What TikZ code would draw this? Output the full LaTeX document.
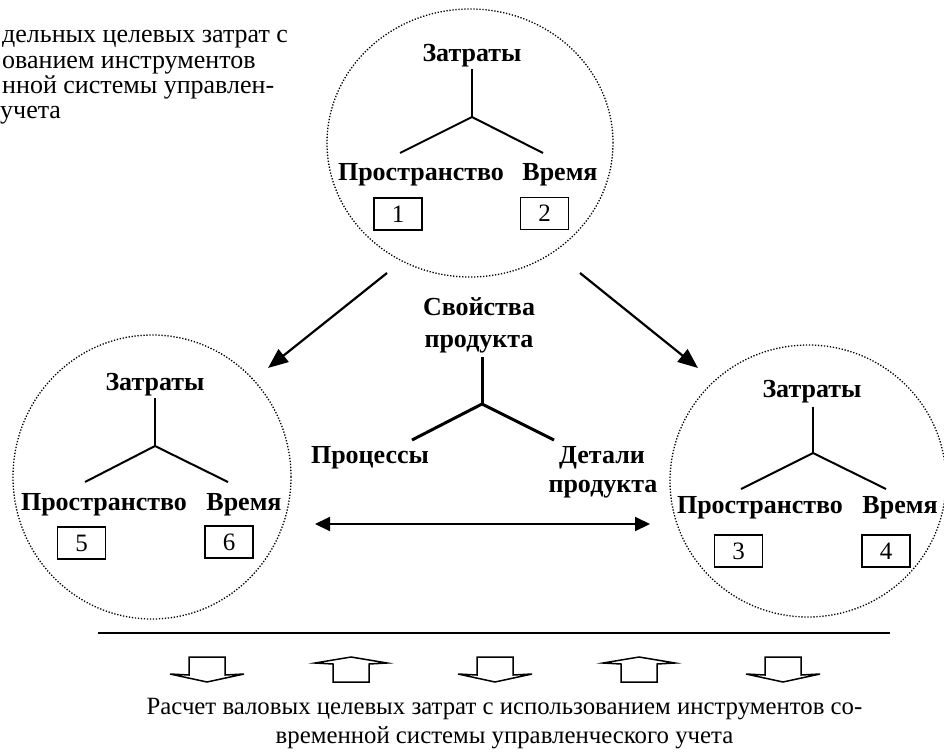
\documentclass[tikz,border=0pt]{standalone}
\usepackage{fontspec}
\setmainfont{Liberation Serif}
\usetikzlibrary{arrows.meta,shapes.geometric}
\begin{document}
\begin{tikzpicture}[x=1pt,y=-1pt,
  bt/.style={font=\fontsize{26}{28}\selectfont\bfseries, inner sep=0, anchor=base},
  rt/.style={font=\fontsize{24.8}{28}\selectfont, inner sep=0, anchor=base},
  lt/.style={font=\fontsize{26}{28}\selectfont, inner sep=0, anchor=base west},
  numbox/.style={draw, line width=1.2pt, minimum width=48, minimum height=32, inner sep=0, font=\fontsize{25}{28}\selectfont},
  branch/.style={line width=2pt},
  cbranch/.style={line width=3pt},
  dotcirc/.style={draw, ellipse, line width=1.3pt, dash pattern=on 1.3pt off 1.7pt, inner sep=0},
  arr/.style={line width=2.2pt, -{Triangle[length=20pt,width=16pt]}},
  darr/.style={line width=2pt, {Triangle[length=15pt,width=14pt]}-{Triangle[length=15pt,width=14pt]}},
  blk/.style={line width=1.5pt, line join=miter}
]
\useasboundingbox (0,0) rectangle (944,752);
\clip (0,0) rectangle (944,752);

% top-left text (clipped in the reference)
\node[lt] (tl1) at (2,43) {дельных целевых затрат с};
\node[lt] (tl2) at (2,68) {ованием инструментов};
\node[lt] (tl3) at (2,93) {нной системы управлен-};
\node[lt] (tl4) at (0,118) {учета};

% top circle
\node[dotcirc, minimum width=286, minimum height=268] (C1) at (470,143) {};
\node[bt] (z1) at (472,61) {Затраты};
\coordinate (t1) at (472,69);
\coordinate (j1) at (472,117);
\coordinate (l1) at (400,153);
\coordinate (r1) at (543,153);
\draw[branch] (t1) -- (j1);
\draw[branch] (l1) -- (j1) -- (r1);
\node[bt] (p1) at (421,180) {Пространство};
\node[bt] (v1) at (560,180) {Время};
\node[numbox] (b1) at (398,214) {1};
\node[numbox] (b2) at (544.5,213.5) {2};

% left circle
\node[dotcirc, minimum width=278, minimum height=284] (C2) at (152,477) {};
\node[bt] (z2) at (155,390) {Затраты};
\coordinate (t2) at (155,398);
\coordinate (j2) at (155,446);
\coordinate (l2) at (85,482);
\coordinate (r2) at (228,482);
\draw[branch] (t2) -- (j2);
\draw[branch] (l2) -- (j2) -- (r2);
\node[bt] (p2) at (104,510) {Пространство};
\node[bt] (v2) at (244,510) {Время};
\node[numbox] (b5) at (81.5,543) {5};
\node[numbox] (b6) at (229,542) {6};

% right circle
\node[dotcirc, minimum width=276, minimum height=272] (C3) at (808,481) {};
\node[bt] (z3) at (812,397) {Затраты};
\coordinate (t3) at (813,407);
\coordinate (j3) at (813,453);
\coordinate (l3) at (741,489);
\coordinate (r3) at (886,489);
\draw[branch] (t3) -- (j3);
\draw[branch] (l3) -- (j3) -- (r3);
\node[bt] (p3) at (760,513) {Пространство};
\node[bt] (v3) at (900,513) {Время};
\node[numbox] (b3) at (738.5,551) {3};
\node[numbox] (b4) at (886,551) {4};

% centre
\node[bt] (s1) at (479,315) {Свойства};
\node[bt] (s2) at (479,347) {продукта};
\coordinate (tc) at (482,357);
\coordinate (jc) at (482,404);
\coordinate (lc) at (412,440);
\coordinate (rc) at (554,440);
\draw[cbranch] (tc) -- (jc);
\draw[cbranch] (lc) -- (jc) -- (rc);
\node[bt] (pr) at (370,463) {Процессы};
\node[bt] (d1) at (602,463) {Детали};
\node[bt] (d2) at (603,492) {продукта};

% arrows
\coordinate (a1s) at (387,273);
\coordinate (a1e) at (268,368);
\coordinate (a2s) at (580,273);
\coordinate (a2e) at (698,368);
\draw[arr] (a1s) -- (a1e);
\draw[arr] (a2s) -- (a2e);
\coordinate (hl) at (315,524);
\coordinate (hr) at (650,524);
\draw[darr] (hl) -- (hr);

% bottom line
\coordinate (bl) at (98,633);
\coordinate (br) at (890,633);
\draw[line width=1.8pt] (bl) -- (br);

% block arrows
\foreach \c in {207,495,783}{
  \begin{scope}[shift={(\c,0)}]
    \draw[blk] (-18,657) -- (18,657) -- (18,675) -- (37,674) -- (0,682) -- (-37,674) -- (-18,675) -- cycle;
  \end{scope}
}
\foreach \c in {351,639}{
  \begin{scope}[shift={(\c,0)}]
    \draw[blk] (-18,682) -- (18,682) -- (18,664) -- (36,663) -- (0,657) -- (-36,663) -- (-18,664) -- cycle;
  \end{scope}
}

% bottom text
\node[rt] (bt1) at (504.5,714) {Расчет валовых целевых затрат с использованием инструментов со-};
\node[rt] (bt2) at (504.5,743) {временной системы управленческого учета};
\end{tikzpicture}
\end{document}
